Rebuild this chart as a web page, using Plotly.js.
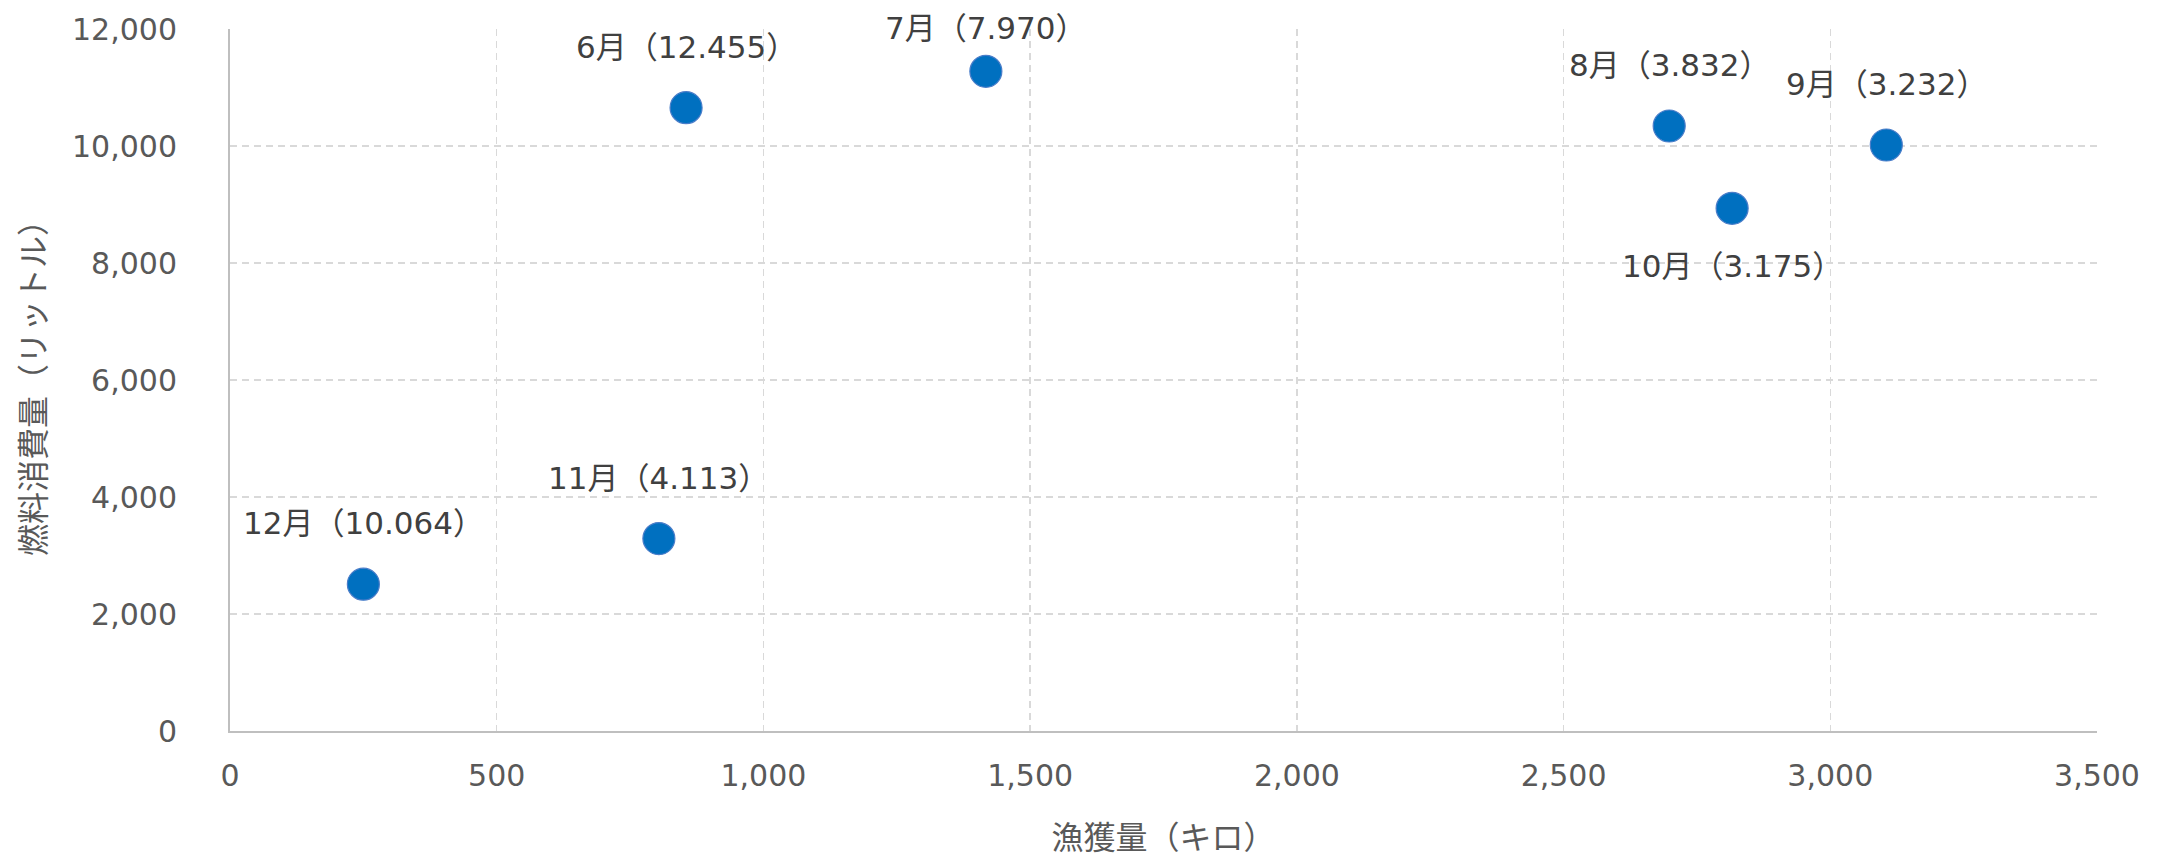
<!DOCTYPE html>
<html>
<head>
<meta charset="utf-8">
<script src="https://cdn.plot.ly/plotly-3.0.1.min.js"></script>
<style>html,body{margin:0;padding:0;background:#fff;}#chart{width:2165px;height:859px;}</style>
</head>
<body>
<div id="chart"></div>
<script>
// Data
const months = ['6月', '7月', '8月', '9月', '10月', '11月', '12月'];
const catchKg = [855, 1417, 2698, 3105, 2816, 804, 250];          // 漁獲量（キロ）
const fuelLiters = [10655, 11277, 10342, 10017, 8935, 3289, 2510]; // 燃料消費量（リットル）
const labelValues = ['12.455', '7.970', '3.832', '3.232', '3.175', '4.113', '10.064'];
const xTickVals = [0, 500, 1000, 1500, 2000, 2500, 3000, 3500];
const yTickVals = [0, 2000, 4000, 6000, 8000, 10000, 12000];

// Label placement (style, not data)
const labelBelow = {'10月': true};
const labelNudge = {'7月': 18};

const FONT = '"DejaVu Sans", "Noto Sans CJK JP", sans-serif';

const trace = {
  type: 'scatter',
  mode: 'markers',
  x: catchKg,
  y: fuelLiters,
  marker: {size: 32, color: '#0070C0', line: {color: '#4A7DC9', width: 1.2}},
  hoverinfo: 'x+y',
  cliponaxis: false
};

const annotations = months.map((m, i) => ({
  x: catchKg[i],
  y: fuelLiters[i],
  xref: 'x', yref: 'y',
  text: m + '（' + labelValues[i] + '）',
  showarrow: false,
  xanchor: 'center', yanchor: 'middle',
  yshift: labelBelow[m] ? -58 : 61 - (labelNudge[m] || 0),
  font: {family: FONT, size: 31, color: '#404040'}
}));

const layout = {
  width: 2165, height: 859,
  margin: {l: 230, r: 68, t: 29, b: 128, pad: 0},
  paper_bgcolor: '#ffffff', plot_bgcolor: '#ffffff',
  showlegend: false,
  font: {family: FONT, color: '#595959'},
  xaxis: {
    range: [0, 3500], tickvals: xTickVals, tickformat: ',d',
    showline: true, linecolor: '#BFBFBF', linewidth: 2,
    showgrid: true, gridcolor: '#D9D9D9', gridwidth: 1.4, griddash: '7px,5px',
    zeroline: false, ticks: '', ticklabelstandoff: 17,
    tickfont: {family: FONT, size: 30, color: '#595959'},
    title: {text: '漁獲量（キロ）', font: {family: FONT, size: 32, color: '#595959'}, standoff: 35},
    automargin: false, fixedrange: true
  },
  yaxis: {
    range: [0, 12000], tickvals: yTickVals, tickformat: ',d',
    showline: true, linecolor: '#BFBFBF', linewidth: 2,
    showgrid: true, gridcolor: '#D9D9D9', gridwidth: 1.4, griddash: '7px,5px',
    zeroline: false, ticks: '', ticklabelstandoff: 45,
    tickfont: {family: FONT, size: 30, color: '#595959'},
    title: {text: '燃料消費量（リットル）', font: {family: FONT, size: 32, color: '#595959'}, standoff: 17},
    automargin: false, fixedrange: true
  },
  annotations: annotations
};

Plotly.newPlot('chart', [trace], layout, {displayModeBar: false, staticPlot: true});
</script>
</body>
</html>
